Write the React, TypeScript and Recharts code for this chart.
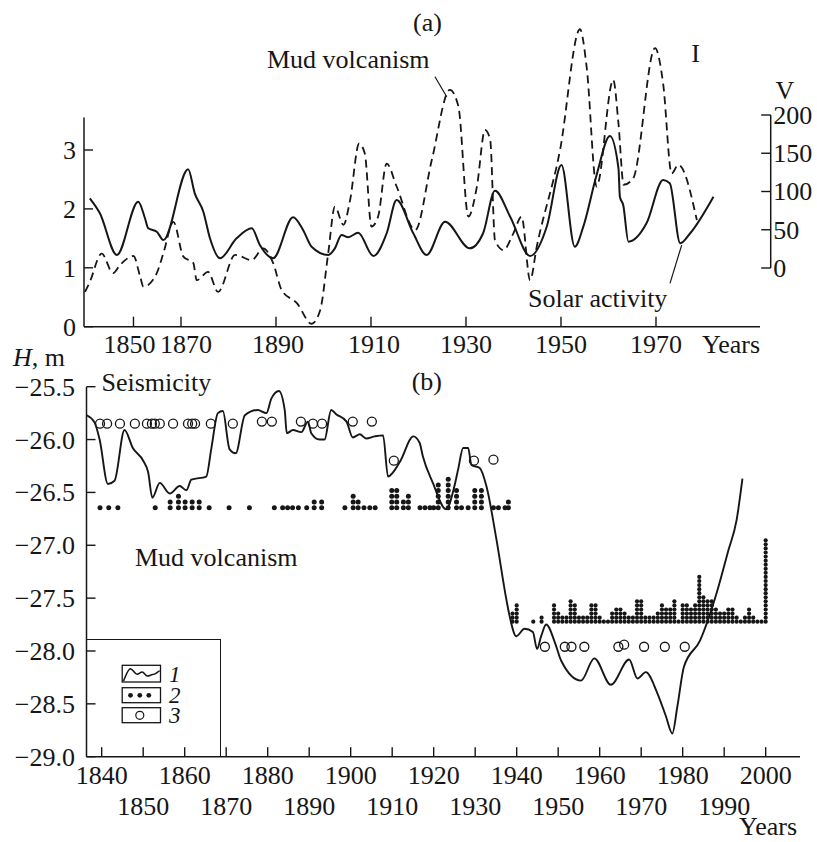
import React from 'react';
import { ComposedChart, Line, Scatter, XAxis, YAxis, ReferenceLine, Legend } from 'recharts';

const FONT = "'Liberation Serif', 'Times New Roman', Times, serif";
const INK = '#161616';
const FS = 26;

// ---------- Panel (a) ----------
const solarYears = [1850.8, 1852.9, 1856.5, 1861.0, 1862.4, 1863.1, 1864.9, 1866.3, 1871.5, 1872.9, 1874.7, 1876.1, 1878.2, 1881.7, 1884.9, 1886.6, 1889.4, 1893.6, 1895.7, 1897.5, 1901.0, 1902.4, 1903.8, 1905.2, 1907.3, 1910.5, 1913.3, 1915.4, 1918.9, 1921.7, 1925.6, 1930.8, 1933.6, 1936.1, 1939.3, 1943.5, 1947.0, 1950.1, 1952.9, 1954.7, 1957.5, 1960.3, 1962.1, 1962.4, 1963.1, 1964.2, 1968.0, 1971.5, 1972.9, 1975.1, 1977.2, 1982.1];
const solarValues = [91.1, 71.9, 17.0, 86.7, 65.4, 51.9, 47.5, 36.6, 129.0, 97.6, 73.6, 38.8, 12.7, 38.8, 51.9, 30.1, 12.7, 66.3, 49.7, 27.8, 17.0, 25.7, 43.1, 40.1, 46.1, 15.7, 45.4, 88.9, 45.4, 17.0, 60.5, 25.7, 45.4, 101.0, 67.1, 15.7, 54.0, 134.6, 27.8, 54.0, 121.6, 172.5, 130.3, 93.2, 82.3, 34.4, 58.4, 115.0, 110.7, 32.3, 45.4, 93.2];

const mudYears = [1849.8, 1850.8, 1853.3, 1855.7, 1857.2, 1860.0, 1861.4, 1862.1, 1864.9, 1866.3, 1868.4, 1870.5, 1872.6, 1873.3, 1875.7, 1877.8, 1881.4, 1884.9, 1887.3, 1889.4, 1891.2, 1894.4, 1897.5, 1899.3, 1901.0, 1902.4, 1904.2, 1905.6, 1907.5, 1908.7, 1910.1, 1911.5, 1913.3, 1915.4, 1919.3, 1922.8, 1926.6, 1928.4, 1930.5, 1932.3, 1934.0, 1935.1, 1936.1, 1937.9, 1940.0, 1941.7, 1943.5, 1944.9, 1949.8, 1954.0, 1955.4, 1957.5, 1961.0, 1962.1, 1963.2, 1965.2, 1969.8, 1971.5, 1973.3, 1974.7, 1978.6];
const mudValues = [0.59, 0.76, 1.24, 0.91, 1.05, 1.2, 0.85, 0.68, 0.91, 1.25, 1.78, 1.19, 1.08, 0.79, 0.93, 0.59, 1.22, 1.13, 1.33, 1.08, 0.62, 0.4, 0.05, 0.28, 1.25, 2.04, 1.73, 2.15, 3.11, 2.94, 1.7, 1.87, 2.77, 2.38, 1.64, 2.83, 4.02, 3.74, 1.87, 2.38, 3.34, 3.17, 1.47, 1.3, 1.59, 1.87, 0.79, 1.36, 3.0, 5.05, 4.41, 2.38, 4.19, 3.45, 2.41, 2.52, 4.73, 4.13, 2.6, 2.75, 1.81];

const aTickYears = [1860, 1870, 1890, 1910, 1930, 1950, 1970];
const aTickLabels = ['1850', '1870', '1890', '1910', '1930', '1950', '1970'];
const aLeftTicks = [0, 1, 2, 3];
const aRightTicks = [0, 50, 100, 150, 200];

const A_X_DOMAIN = [1849.58, 1994.15];
const A_LEFT_DOMAIN = [0, 5.207];
const A_RIGHT_DOMAIN = [-76.73, 324.18];
const A_AXIS_END_YEAR = 1991.9;
const A_LEFT_AXIS_TOP = 3.55;
// small horizontal nudges of the crowded first two tick labels (px)
const A_LABEL_NUDGE = [-4, 5, 2, 3, 0, 0, 0];

// ---------- Panel (b) ----------
const levelYears = [1836.4, 1838.3, 1839.5, 1841.5, 1843.1, 1845.5, 1847.5, 1850.0, 1851.2, 1852.2, 1854.0, 1856.4, 1858.8, 1860.4, 1861.6, 1865.2, 1866.4, 1868.0, 1869.2, 1870.8, 1872.3, 1874.5, 1877.6, 1879.7, 1880.9, 1882.7, 1884.1, 1884.6, 1886.1, 1888.1, 1889.7, 1890.5, 1892.5, 1893.7, 1895.3, 1896.5, 1899.0, 1900.5, 1902.2, 1903.7, 1905.8, 1907.8, 1909.0, 1910.2, 1912.0, 1915.1, 1916.6, 1917.4, 1919.8, 1923.0, 1925.0, 1925.9, 1927.1, 1928.3, 1929.1, 1931.1, 1932.7, 1935.1, 1937.5, 1938.3, 1939.9, 1941.9, 1943.9, 1944.9, 1945.9, 1947.1, 1949.3, 1950.7, 1955.5, 1958.7, 1962.7, 1967.1, 1969.1, 1971.1, 1973.9, 1975.9, 1977.5, 1978.7, 1980.3, 1984.2, 1988.2, 1991.0, 1993.0, 1994.4];
const levelValues = [-25.77, -25.84, -26.0, -26.42, -26.39, -25.91, -26.08, -26.2, -26.31, -26.55, -26.41, -26.51, -26.44, -26.48, -26.38, -26.35, -26.09, -25.75, -25.73, -26.09, -26.13, -25.77, -25.72, -25.75, -25.61, -25.54, -25.72, -25.94, -25.91, -25.93, -25.83, -25.94, -26.0, -26.0, -25.72, -25.76, -25.83, -25.98, -25.95, -25.99, -25.97, -25.96, -26.35, -26.31, -26.2, -25.97, -26.03, -26.16, -26.41, -26.66, -26.44, -26.28, -26.08, -26.08, -26.24, -26.27, -26.44, -26.94, -27.51, -27.67, -27.86, -27.79, -27.82, -27.98, -27.86, -27.75, -27.93, -28.09, -28.28, -28.07, -28.32, -28.08, -28.26, -28.2, -28.4, -28.61, -28.78, -28.53, -28.15, -27.9, -27.45, -27.05, -26.76, -26.37];

const seismYears = [1839.6, 1841.3, 1844.4, 1848.0, 1850.9, 1852.1, 1852.8, 1854.0, 1857.2, 1860.8, 1861.8, 1862.5, 1866.3, 1871.6, 1878.6, 1881.0, 1888.0, 1890.9, 1893.1, 1900.5, 1905.1, 1910.4, 1929.7, 1934.4, 1946.8, 1951.6, 1953.2, 1956.3, 1964.5, 1965.9, 1970.7, 1975.7, 1980.5];
const seismValues = [-25.85, -25.85, -25.85, -25.85, -25.85, -25.85, -25.85, -25.85, -25.85, -25.85, -25.85, -25.85, -25.85, -25.85, -25.83, -25.83, -25.83, -25.85, -25.85, -25.83, -25.83, -26.2, -26.2, -26.19, -27.96, -27.96, -27.96, -27.96, -27.96, -27.94, -27.96, -27.96, -27.96];

const mudEarlyYears = [1839.6, 1841.7, 1843.9, 1852.9, 1856.5, 1858.5, 1860.1, 1861.8, 1863.5, 1865.9, 1870.7, 1875.6, 1881.6, 1883.6, 1884.8, 1886.0, 1887.4, 1889.4, 1891.2, 1893.0, 1898.6, 1900.6, 1901.8, 1903.2, 1904.6, 1905.9, 1909.9, 1911.1, 1912.7, 1913.9, 1916.7, 1917.9, 1919.1, 1920.0, 1921.1, 1923.5, 1925.5, 1926.7, 1928.3, 1929.9, 1931.5, 1934.4, 1935.6, 1937.2, 1938.0];
const mudEarlyCounts = [1, 1, 1, 1, 2, 3, 2, 2, 2, 1, 1, 1, 1, 1, 1, 1, 1, 1, 2, 2, 1, 3, 2, 1, 1, 1, 4, 4, 2, 3, 1, 1, 1, 1, 5, 6, 4, 1, 1, 4, 4, 1, 1, 1, 2];
const mudLateYears = [1939, 1940, 1944, 1946, 1949, 1950, 1951, 1952, 1953, 1954, 1955, 1956, 1957, 1958, 1959, 1960, 1961, 1962, 1963, 1964, 1965, 1966, 1967, 1968, 1969, 1970, 1971, 1972, 1973, 1974, 1975, 1976, 1977, 1978, 1979, 1980, 1981, 1982, 1983, 1984, 1985, 1986, 1987, 1988, 1989, 1990, 1991, 1992, 1993, 1994, 1995, 1996, 1997, 1998, 1999, 2000];
const mudLateCounts = [3, 5, 1, 2, 5, 3, 2, 2, 6, 5, 2, 2, 2, 5, 5, 2, 1, 1, 3, 4, 4, 3, 2, 2, 6, 6, 2, 2, 2, 3, 5, 4, 4, 6, 1, 5, 5, 4, 5, 12, 7, 6, 6, 4, 3, 3, 4, 4, 2, 1, 2, 4, 2, 1, 1, 21];

const MUD_EARLY_BASE = -26.645;
const MUD_EARLY_STEP = 0.054;
const MUD_LATE_BASE = -27.723;
const MUD_LATE_STEP = 0.0385;

const bTickYears = [1840, 1850, 1860, 1870, 1880, 1890, 1900, 1910, 1920, 1930, 1940, 1950, 1960, 1970, 1980, 1990, 2000];
const bLeftTicks = [-25.5, -26.0, -26.5, -27.0, -27.5, -28.0, -28.5, -29.0];
const B_X_DOMAIN = [1836.34, 2008.27];
const B_Y_DOMAIN = [-29, -25.5];
const legendLabels = ['1', '2', '3'];

// ---------- data assembly ----------
const pairs = (xs: number[], ys: number[]) => xs.map((x, i) => ({ x, y: ys[i] }));
const stack = (xs: number[], counts: number[], base: number, step: number) => {
  const out: { x: number; y: number }[] = [];
  xs.forEach((x, i) => {
    for (let k = 0; k < counts[i]; k++) out.push({ x, y: base + k * step });
  });
  return out;
};

const solarData = pairs(solarYears, solarValues);
const mudData = pairs(mudYears, mudValues);
const levelData = pairs(levelYears, levelValues);
const seismData = pairs(seismYears, seismValues);
const mudEarlyData = stack(mudEarlyYears, mudEarlyCounts, MUD_EARLY_BASE, MUD_EARLY_STEP);
const mudLateData = stack(mudLateYears, mudLateCounts, MUD_LATE_BASE, MUD_LATE_STEP);

// ---------- ticks ----------
const txt = { fontFamily: FONT, fontSize: FS, fill: INK } as const;

const ATickX = (p: any) => {
  const i = aTickYears.indexOf(p.payload.value);
  return (
    <g>
      <line x1={p.x} x2={p.x} y1={p.y} y2={p.y - 10} stroke={INK} strokeWidth={1.4} />
      <text x={p.x + (A_LABEL_NUDGE[i] || 0)} y={p.y + 26.5} textAnchor="middle" {...txt}>{aTickLabels[i]}</text>
    </g>
  );
};
const ALeftTick = (p: any) => (
  <g>
    <line x1={p.x} x2={p.x + 9} y1={p.y} y2={p.y} stroke={INK} strokeWidth={1.4} />
    <text x={p.x - 8} y={p.y + 9} textAnchor="end" {...txt}>{p.payload.value}</text>
  </g>
);
const ARightTick = (p: any) => (
  <g>
    <line x1={p.x - 9.5} x2={p.x} y1={p.y} y2={p.y} stroke={INK} strokeWidth={1.4} />
    <text x={p.x + 2.5} y={p.y + 9} textAnchor="start" {...txt}>{p.payload.value}</text>
  </g>
);
const BTickX = (p: any) => {
  const v = p.payload.value;
  const top = (v - 1840) % 20 === 0;
  return (
    <g>
      <line x1={p.x} x2={p.x} y1={p.y} y2={p.y - 9.5} stroke={INK} strokeWidth={1.4} />
      <text x={p.x} y={p.y + (top ? 27.3 : 58.3)} textAnchor="middle" {...txt}>{v}</text>
    </g>
  );
};
const BLeftTick = (p: any) => (
  <g>
    <line x1={p.x} x2={p.x + 9} y1={p.y} y2={p.y} stroke={INK} strokeWidth={1.4} />
    <text x={p.x - 11.5} y={p.y + 9} textAnchor="end" {...txt}>{'\u2212' + Math.abs(p.payload.value).toFixed(1)}</text>
  </g>
);

const dotShape = (r: number) => (p: any) => <circle cx={p.cx} cy={p.cy} r={r} fill={INK} stroke="none" />;
const ringShape = (p: any) => <circle cx={p.cx} cy={p.cy} r={4.5} fill="none" stroke={INK} strokeWidth={1.3} />;

const legendText = { fontStyle: 'italic', fontFamily: FONT, fontSize: 23, fill: INK } as const;
const LegendBox = () => (
  <svg width={134} height={118} style={{ display: 'block' }}>
    <rect x={35.2} y={25.3} width={38.3} height={16.7} fill="none" stroke={INK} strokeWidth={1.3} />
    <path d="M36.5,41 C39,35 41,28.7 43.5,28.7 C46,29 48,34.3 50.2,34.3 C52,34 53.5,32 55.2,32 C57,32 58.5,36 60.2,36 C62.5,36 64.5,34.3 66.8,34.3 C69,34 71,31 72.8,31" fill="none" stroke={INK} strokeWidth={1.6} />
    <rect x={35.2} y={47.7} width={38.3} height={15} fill="none" stroke={INK} strokeWidth={1.3} />
    <circle cx={43.5} cy={55.3} r={2.4} fill={INK} />
    <circle cx={52.8} cy={55.3} r={2.4} fill={INK} />
    <circle cx={61.8} cy={55.3} r={2.4} fill={INK} />
    <rect x={35.2} y={67.7} width={38.3} height={15} fill="none" stroke={INK} strokeWidth={1.3} />
    <circle cx={52.8} cy={75.3} r={4} fill="none" stroke={INK} strokeWidth={1.2} />
    <text x={82} y={41.5} {...legendText}>{legendLabels[0]}</text>
    <text x={82} y={62.5} {...legendText}>{legendLabels[1]}</text>
    <text x={82} y={83} {...legendText}>{legendLabels[2]}</text>
  </svg>
);

const axisStroke = { stroke: INK, strokeWidth: 1.5 };

export default function App() {
  return (
    <div style={{ position: 'absolute', left: 0, top: 0, width: 817, height: 842, background: '#fff' }}>
      <div style={{ position: 'absolute', left: 0, top: 0 }}>
        <ComposedChart width={817} height={360} margin={{ top: 20, right: 0, bottom: 0, left: 0 }}>
          <XAxis dataKey="x" type="number" domain={A_X_DOMAIN} ticks={aTickYears} interval={0} tickSize={0} tickMargin={0} tickLine={false} axisLine={false} tick={ATickX} height={33.3} />
          <YAxis yAxisId="left" type="number" domain={A_LEFT_DOMAIN} ticks={aLeftTicks} interval={0} tickSize={0} tickMargin={0} tickLine={false} axisLine={false} tick={ALeftTick} width={84} />
          <YAxis yAxisId="right" orientation="right" type="number" domain={A_RIGHT_DOMAIN} ticks={aRightTicks} interval={0} tickSize={0} tickMargin={0} tickLine={false} axisLine={false} tick={ARightTick} width={46.3} />
          <ReferenceLine yAxisId="left" ifOverflow="visible" segment={[{ x: A_X_DOMAIN[0], y: 0 }, { x: A_X_DOMAIN[0], y: A_LEFT_AXIS_TOP }]} {...axisStroke} />
          <ReferenceLine yAxisId="left" ifOverflow="visible" segment={[{ x: A_X_DOMAIN[0], y: 0 }, { x: A_AXIS_END_YEAR, y: 0 }]} {...axisStroke} />
          <ReferenceLine yAxisId="right" ifOverflow="visible" segment={[{ x: A_X_DOMAIN[1], y: 0 }, { x: A_X_DOMAIN[1], y: 200 }]} {...axisStroke} />
          <ReferenceLine yAxisId="left" ifOverflow="visible" segment={[{ x: 1923.47, y: 4.244 }, { x: 1925.94, y: 3.905 }]} stroke={INK} strokeWidth={1.2} />
          <ReferenceLine yAxisId="right" ifOverflow="visible" segment={[{ x: 1972.95, y: -20 }, { x: 1975.41, y: 30 }]} stroke={INK} strokeWidth={1.2} />
          <Line yAxisId="left" data={mudData} dataKey="y" type="monotone" stroke={INK} strokeWidth={1.8} strokeDasharray="8 5" dot={false} isAnimationActive={false} />
          <Line yAxisId="right" data={solarData} dataKey="y" type="monotone" stroke={INK} strokeWidth={2} dot={false} isAnimationActive={false} />
        </ComposedChart>
      </div>
      <div style={{ position: 'absolute', left: 0, top: 360 }}>
        <ComposedChart width={817} height={482} margin={{ top: 26.7, right: 17, bottom: 0, left: 0 }}>
          <XAxis dataKey="x" type="number" domain={B_X_DOMAIN} ticks={bTickYears} interval={0} tickSize={0} tickMargin={0} tickLine={false} axisLine={axisStroke} tick={BTickX} height={85.3} />
          <YAxis dataKey="y" type="number" domain={B_Y_DOMAIN} ticks={bLeftTicks} interval={0} tickSize={0} tickMargin={0} tickLine={false} axisLine={axisStroke} tick={BLeftTick} width={86.5} />
          <Legend layout="vertical" align="center" verticalAlign="middle" content={() => <LegendBox />}
            wrapperStyle={{ position: 'absolute', left: 86.5, top: 279, width: 134.5, height: 118, border: `1.3px solid ${INK}`, borderLeft: 'none', borderBottom: 'none', boxSizing: 'border-box', background: 'transparent' }} />
          <Line name="1" data={levelData} dataKey="y" type="monotone" stroke={INK} strokeWidth={1.9} dot={false} isAnimationActive={false} />
          <Scatter name="2" data={mudEarlyData} shape={dotShape(2.5)} isAnimationActive={false} />
          <Scatter name="2b" legendType="none" data={mudLateData} shape={dotShape(2.1)} isAnimationActive={false} />
          <Scatter name="3" data={seismData} shape={ringShape} isAnimationActive={false} />
        </ComposedChart>
      </div>
      <svg width={817} height={842} style={{ position: 'absolute', left: 0, top: 0, pointerEvents: 'none' }}>
        <g {...txt}>
          <text x={427.5} y={31} textAnchor="middle">(a)</text>
          <text x={267} y={68}>Mud volcanism</text>
          <text x={695.5} y={62} textAnchor="middle">I</text>
          <text x={785} y={99} textAnchor="middle">V</text>
          <text x={528} y={307}>Solar activity</text>
          <text x={760} y={353} textAnchor="end">Years</text>
          <text x={13} y={366}><tspan fontStyle="italic">H</tspan>, m</text>
          <text x={101.5} y={391}>Seismicity</text>
          <text x={411.7} y={390}>(b)</text>
          <text x={135} y={566}>Mud volcanism</text>
          <text x={797} y={835} textAnchor="end">Years</text>
        </g>
      </svg>
    </div>
  );
}
